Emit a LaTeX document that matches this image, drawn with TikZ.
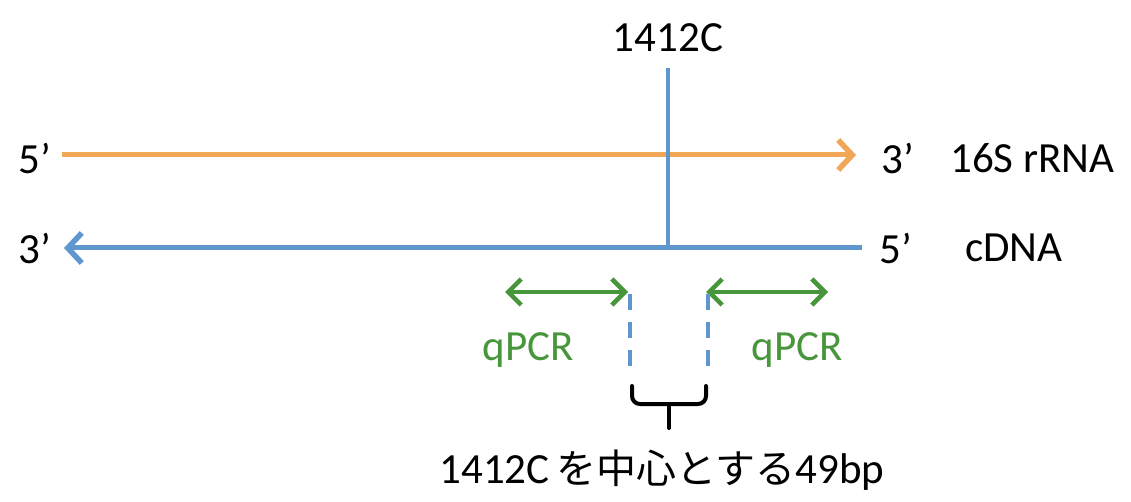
\documentclass[tikz,border=0pt]{standalone}
\usepackage{fontspec}
\setmainfont{Carlito}
\newfontfamily\cjk{Noto Sans CJK JP}
\usetikzlibrary{arrows.meta}
\definecolor{rnaorange}{RGB}{242,166,88}
\definecolor{dnablue}{RGB}{96,150,206}
\definecolor{pcrgreen}{RGB}{72,150,60}
\begin{document}
\begin{tikzpicture}[x=1pt,y=-1pt,
  lbl/.style={font=\fontsize{43}{47}\selectfont, inner sep=0pt, anchor=center},
  strand/.style={line width=5pt},
  pcr/.style={line width=4pt, pcrgreen, {Straight Barb[length=13pt,width=26pt,line width=4.5pt]}-{Straight Barb[length=13pt,width=26pt,line width=4.5pt]}},
  dashblue/.style={line width=4pt, dnablue, dash pattern=on 16pt off 12pt},
  brace/.style={line width=4pt, black, line cap=round}]
\useasboundingbox (0,0) rectangle (1131,502);
% coordinates
\coordinate (o1) at (62,155);
\coordinate (o2) at (856,155);
\coordinate (b1) at (862,248);
\coordinate (b2) at (64,248);
\coordinate (vtop) at (668,68);
\coordinate (vbot) at (668,248);
\coordinate (gl1) at (505,292);
\coordinate (gl2) at (628,292);
\coordinate (gr1) at (706,292);
\coordinate (gr2) at (828,292);
\coordinate (dl1) at (630,294);
\coordinate (dl2) at (630,378);
\coordinate (dr1) at (708,294);
\coordinate (dr2) at (708,378);
\coordinate (brl) at (632,386);
\coordinate (brr) at (706,386);
\coordinate (brm) at (669,404);
\coordinate (brs) at (669,428);
% labels
\node[lbl] (site) at (668,38) {1412C};
\node[lbl] (l5) at (35,158) {5’};
\node[lbl] (l3) at (35,248) {3’};
\node[lbl] (r3) at (898,158) {3’};
\node[lbl] (r5) at (896,248) {5’};
\node[lbl, anchor=west] (rrna) at (950,158) {16S rRNA};
\node[lbl, anchor=west] (cdna) at (965,248) {cDNA};
\node[lbl, pcrgreen] (ql) at (528,350) {qPCR};
\node[lbl, pcrgreen] (qr) at (797,350) {qPCR};
\node[lbl] (bottom) at (662,470) {1412C\,{\cjk\fontsize{40}{47}\selectfont を中心とする}49bp};
% strands
\draw[strand, rnaorange, -{Straight Barb[length=14pt,width=30pt,line width=5.5pt]}] (o1) -- (o2);
\draw[strand, dnablue, -{Straight Barb[length=14pt,width=30pt,line width=5.5pt]}] (b1) -- (b2);
\draw[line width=4pt, dnablue] (vtop) -- (vbot);
% qPCR arrows
\draw[pcr] (gl1) -- (gl2);
\draw[pcr] (gr1) -- (gr2);
% dashed boundaries
\draw[dashblue] (dl1) -- (dl2);
\draw[dashblue] (dr1) -- (dr2);
% brace
\draw[brace, rounded corners=8pt] (brl) -- (632,404) -- (706,404) -- (brr);
\draw[brace] (brm) -- (brs);
\end{tikzpicture}
\end{document}
